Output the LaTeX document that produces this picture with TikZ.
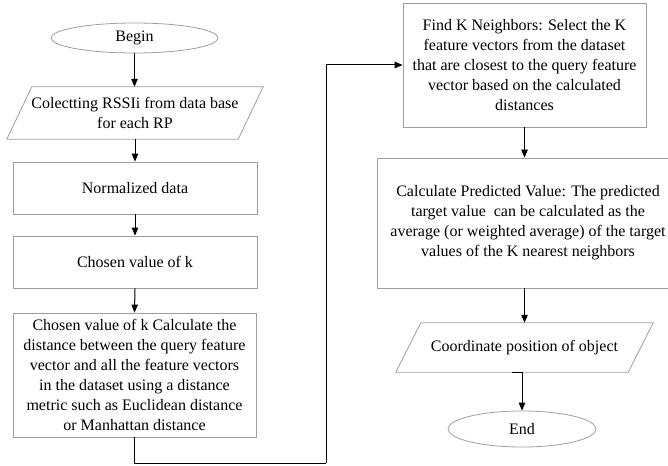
\documentclass[tikz,border=0pt]{standalone}
\usepackage{fontspec}
\setmainfont{Liberation Serif}
\usetikzlibrary{shapes.geometric,arrows.meta,calc}
\begin{document}
\begin{tikzpicture}[x=1pt,y=-1pt,
  every node/.style={font=\fontsize{16}{20}\selectfont, align=center, inner sep=0pt},
  boxst/.style={draw=black!38, line width=0.8pt, rectangle},
  ellst/.style={draw=black!38, line width=0.8pt, ellipse},
  parast/.style={rectangle},
  parline/.style={draw=black!38, line width=0.8pt},
  arr/.style={draw=black, line width=1pt, -{Triangle[length=8pt,width=6.5pt]}},
  conn/.style={draw=black, line width=1pt}]
\useasboundingbox (0,0) rectangle (668,465);
\node[ellst, minimum width=167pt, minimum height=30pt] (begin) at (134.5,38) {Begin};
\node[parast, minimum width=256pt, minimum height=52pt] (p1) at (135,113) {Colectting RSSIi from data base\\for each RP};
\draw[parline] ([xshift=25pt]p1.north west) -- (p1.north east) -- ([xshift=-25pt]p1.south east) -- (p1.south west) -- cycle;
\node[boxst, minimum width=244pt, minimum height=52pt] (norm) at (135,188) {Normalized data};
\node[boxst, minimum width=244pt, minimum height=52pt] (chosen) at (135,262) {Chosen value of k};
\node[boxst, minimum width=243pt, minimum height=124pt] (dist) at (134.5,375) {Chosen value of k Calculate the\\distance between the query feature\\vector and all the feature vectors\\in the dataset using a distance\\metric such as Euclidean distance\\or Manhattan distance};
\node[boxst, minimum width=243pt, minimum height=124pt] (findk) at (524.5,65) {Find K Neighbors: Select the K\\feature vectors from the dataset\\that are closest to the query feature\\vector based on the calculated\\distances};
\node[boxst, minimum width=302pt, minimum height=130pt] (pred) at (528,223) {Calculate Predicted Value: The predicted\\target value\ \ can be calculated as the\\average (or weighted average) of the target\\values of the K nearest neighbors};
\node[parast, minimum width=257pt, minimum height=49pt] (p2) at (524.5,347.5) {Coordinate position of object};
\draw[parline] ([xshift=25pt]p2.north west) -- (p2.north east) -- ([xshift=-25pt]p2.south east) -- (p2.south west) -- cycle;
\node[ellst, minimum width=148pt, minimum height=36pt] (end) at (522,429) {End};
\coordinate (c2) at (326,463);
\coordinate (p2b) at ($(p2.south)+(-12.5,0)$);
\draw[arr] (begin.south) -- (begin.south |- p1.north);
\draw[arr] (p1.south) -- (norm.north);
\draw[arr] (norm.south) -- (chosen.north);
\draw[arr] (chosen.south) -- (dist.north);
\draw[conn] (dist.south) |- (c2);
\draw[arr] (c2) |- (findk.west);
\draw[arr] (findk.south) -- (findk.south |- pred.north);
\draw[arr] (p2.north |- pred.south) -- (p2.north);
\draw[arr] (p2b) -| (end.north);
\end{tikzpicture}
\end{document}
